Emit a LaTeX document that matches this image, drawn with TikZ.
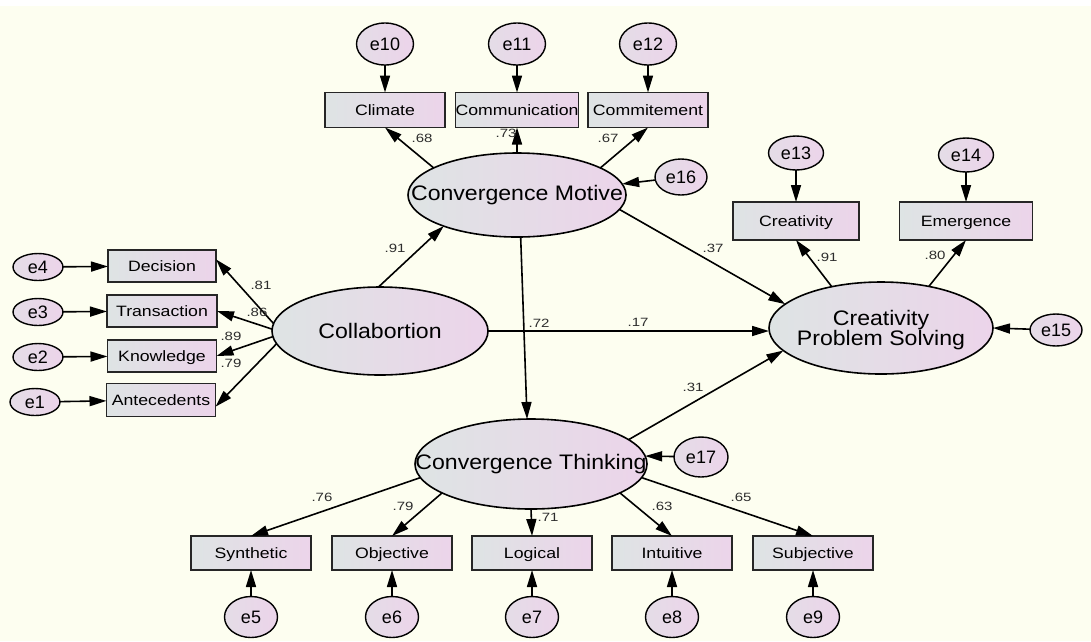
\documentclass[tikz,border=0pt]{standalone}
\usepackage{fontspec}
\setmainfont{Liberation Sans}
\newfontfamily\boxfont[FakeStretch=1.18]{Liberation Sans}
\newfontfamily\numfont[FakeStretch=1.25]{Liberation Sans}
\newfontfamily\latfont[FakeStretch=1.1]{Liberation Sans}
\usetikzlibrary{shapes.geometric,arrows.meta}
\definecolor{bgc}{RGB}{253,254,240}
\definecolor{gl}{RGB}{222,228,228}
\definecolor{gr}{RGB}{236,212,234}
\definecolor{numc}{RGB}{45,45,45}
\begin{document}
\begin{tikzpicture}[x=1pt,y=-1pt,
 every node/.style={inner sep=0pt, outer sep=0pt},
 obs/.style={draw=black!85, line width=1.4pt, rectangle, left color=gl, right color=gr, minimum width=120pt, minimum height=34pt, text height=12pt, text depth=1pt, font=\boxfont\fontsize{15}{15}\selectfont},
 err/.style={draw=black, line width=1.4pt, ellipse, left color=gl!55!gr, right color=gr, text height=13pt, text depth=0pt, font=\fontsize{18}{18}\selectfont},
 lat/.style={draw=black, line width=1.6pt, ellipse, left color=gl, right color=gr},
 lattext/.style={font=\latfont\fontsize{21}{20}\selectfont, align=center},
 num/.style={text=numc, font=\numfont\fontsize{12}{12}\selectfont},
 arr/.style={line width=1.6pt, -{Triangle[length=17pt,width=10pt]}}
]
\fill[bgc] (0,0) rectangle (1091,641);
\fill[white] (0,0) rectangle (1091,6);
\useasboundingbox (0,0) rectangle (1091,641);

% latent variables
\node[lat, minimum width=218pt, minimum height=84pt] (cm) at (517,195) {};
\node[lattext] (cmt) at (cm) {Convergence Motive};
\node[lat, minimum width=216pt, minimum height=88pt] (coll) at (380,331) {};
\node[lattext] (collt) at (coll) {Collabortion};
\node[lat, minimum width=224pt, minimum height=92pt] (cps) at (881,328) {};
\node[lattext] (cpst) at (881,330) {Creativity\\Problem Solving};
\node[lat, minimum width=232pt, minimum height=90pt] (ct) at (531,464) {};
\node[lattext] (ctt) at (ct) {Convergence Thinking};

% left indicators
\node[obs, minimum width=108pt, minimum height=32pt] (dec) at (162,266) {Decision};
\node[obs, minimum width=110pt, minimum height=32pt] (tra) at (162,311) {Transaction};
\node[obs, minimum width=109pt, minimum height=32pt] (kno) at (162,356) {Knowledge};
\node[obs, minimum width=109pt, minimum height=33pt] (ant) at (161,400) {Antecedents};
\node[err, minimum width=50pt, minimum height=27pt] (e4) at (38,267) {e4};
\node[err, minimum width=50pt, minimum height=27pt] (e3) at (38,312) {e3};
\node[err, minimum width=50pt, minimum height=27pt] (e2) at (38,357) {e2};
\node[err, minimum width=50pt, minimum height=27pt] (e1) at (35,402) {e1};

% top indicators
\node[obs, minimum height=35pt] (cli) at (385,110) {Climate};
\node[obs, minimum height=35pt] (comm) at (517,110) {Communication};
\node[obs, minimum height=35pt] (commit) at (648,110) {Commitement};
\node[err, minimum width=57pt, minimum height=42pt] (e10) at (385,44) {e10};
\node[err, minimum width=57pt, minimum height=42pt] (e11) at (517,44) {e11};
\node[err, minimum width=57pt, minimum height=42pt] (e12) at (648,44) {e12};
\node[err, minimum width=52pt, minimum height=36pt] (e16) at (681,177) {e16};

% right indicators
\node[obs, minimum width=126pt, minimum height=38pt] (crea) at (796,221) {Creativity};
\node[obs, minimum width=133pt, minimum height=38pt] (emer) at (966,221) {Emergence};
\node[err, minimum width=55pt, minimum height=34pt] (e13) at (796,153) {e13};
\node[err, minimum width=55pt, minimum height=34pt] (e14) at (966,155) {e14};
\node[err, minimum width=52pt, minimum height=32pt] (e15) at (1056,330) {e15};

% bottom indicators
\node[obs] (syn) at (251,553) {Synthetic};
\node[obs] (obj) at (392,553) {Objective};
\node[obs] (log) at (532,553) {Logical};
\node[obs] (int) at (672,553) {Intuitive};
\node[obs] (sub) at (813,553) {Subjective};
\node[err, minimum width=53pt, minimum height=41pt] (e5) at (251,617) {e5};
\node[err, minimum width=53pt, minimum height=41pt] (e6) at (392,617) {e6};
\node[err, minimum width=53pt, minimum height=41pt] (e7) at (532,617) {e7};
\node[err, minimum width=53pt, minimum height=41pt] (e8) at (672,617) {e8};
\node[err, minimum width=53pt, minimum height=41pt] (e9) at (813,617) {e9};
\node[err, minimum width=54pt, minimum height=40pt] (e17) at (701,457) {e17};

% error arrows
\draw[arr] (e4) -- (dec);
\draw[arr] (e3) -- (tra);
\draw[arr] (e2) -- (kno);
\draw[arr] (e1) -- (ant);
\draw[arr] (e10) -- (cli);
\draw[arr] (e11) -- (comm);
\draw[arr] (e12) -- (commit);
\draw[arr] (e16) -- (cm.6);
\draw[arr] (e13) -- (crea);
\draw[arr] (e14) -- (emer);
\draw[arr] (e15) -- (cps.east);
\draw[arr] (e5) -- (syn);
\draw[arr] (e6) -- (obj);
\draw[arr] (e7) -- (log);
\draw[arr] (e8) -- (int);
\draw[arr] (e9) -- (sub);
\draw[arr] (e17) -- (ct.4);

% loadings
\draw[arr] (coll.176) -- (dec.7);
\draw[arr] (coll.179) -- (tra.east);
\draw[arr] (coll.183) -- (kno.east);
\draw[arr] (coll.187) -- (ant.-7);
\draw[arr] (cm.162) -- (cli.south);
\draw[arr] (cm.north) -- (comm.south);
\draw[arr] (cm.18) -- (commit.south);
\draw[arr] (cps.140) -- (crea.south);
\draw[arr] (cps.41) -- (emer.south);
\draw[arr] (ct.187) -- (syn.north);
\draw[arr] (ct.198) -- (obj.north);
\draw[arr] (ct.south) -- (log.north);
\draw[arr] (ct.342) -- (int.north);
\draw[arr] (ct.353) -- (sub.north);

% structural paths
\draw[arr] (coll.92) -- (cm.203);
\draw[arr] (cm.-8) -- (cps.166);
\draw[arr] (cm.-85) -- (ct.95);
\draw[arr] (coll.east) -- (coll.east -| cps.west);
\draw[arr] (ct.14) -- (cps.193);

% coefficient labels
\node[num] (l81) at (261,285) {.81};
\node[num] (l86) at (257,312) {.86};
\node[num] (l89) at (231,336) {.89};
\node[num] (l79a) at (231,363) {.79};
\node[num] (l68) at (422,138) {.68};
\node[num] (l73) at (506,133) {.73};
\node[num] (l67) at (608,138) {.67};
\node[num] (l91a) at (395,248) {.91};
\node[num] (l37) at (713,248) {.37};
\node[num] (l72) at (539,323) {.72};
\node[num] (l17) at (638,322) {.17};
\node[num] (l31) at (693,387) {.31};
\node[num] (l91b) at (827,257) {.91};
\node[num] (l80) at (935,255) {.80};
\node[num] (l76) at (322,497) {.76};
\node[num] (l79b) at (403,506) {.79};
\node[num] (l71) at (548,517) {.71};
\node[num] (l63) at (662,506) {.63};
\node[num] (l65) at (741,497) {.65};
\end{tikzpicture}
\end{document}
